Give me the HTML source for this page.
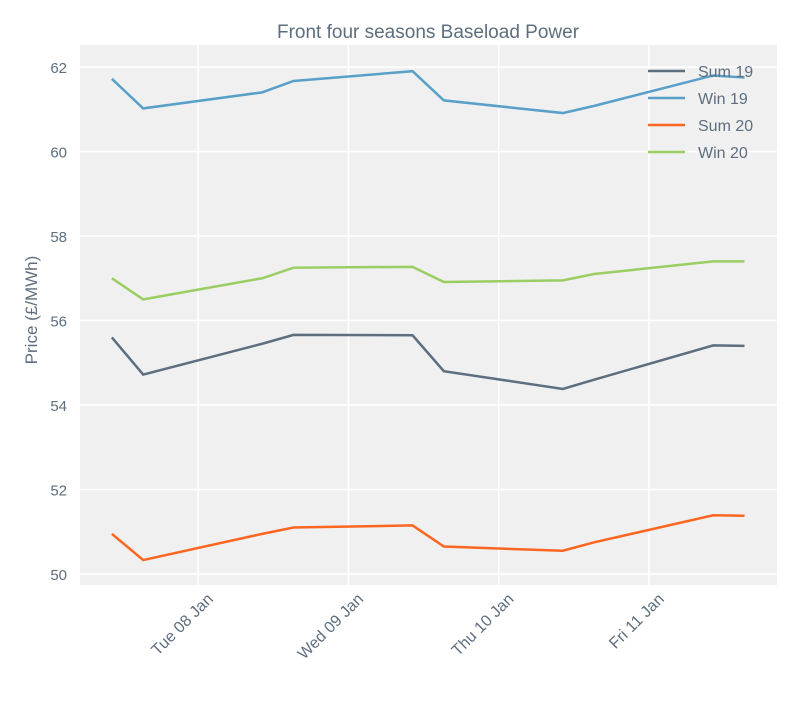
<!DOCTYPE html>
<html><head><meta charset="utf-8"><style>
body{margin:0;background:#fff;}
svg{font-family:"Liberation Sans",Arial,sans-serif;}
</style></head><body>
<svg width="800" height="700" id="c">
<rect x="0" y="0" width="800" height="700" fill="#ffffff"/>
<rect x="80" y="45" width="697" height="540" fill="#f0f0f0"/>
<text x="428" y="38" text-anchor="middle" font-size="19" fill="#5d6e7e">Front four seasons Baseload Power</text>
<text transform="translate(37,310) rotate(-90)" text-anchor="middle" font-size="17" fill="#5d6e7e">Price (£/MWh)</text>
<g id="grid"></g><g id="ticks"></g><g id="lines"></g><g id="legend"></g>
</svg>
<script>
const hours=[10.25,15.25,34.25,39.25,58.25,63.25,82.25,87.25,106.25,111.25];
const seriesNames=["Sum 19","Win 19","Sum 20","Win 20"];
const sum19=[55.6,54.72,55.45,55.66,55.65,54.8,54.38,54.6,55.41,55.4];
const win19=[61.72,61.02,61.4,61.67,61.9,61.21,60.91,61.08,61.8,61.75];
const sum20=[50.95,50.33,50.95,51.1,51.15,50.65,50.55,50.75,51.39,51.38];
const win20=[57.0,56.5,57.0,57.25,57.27,56.91,56.95,57.1,57.4,57.4];
const yTicks=[50,52,54,56,58,60,62];
const xTickHours=[24,48,72,96];
const xTickLabels=["Tue 08 Jan","Wed 09 Jan","Thu 10 Jan","Fri 11 Jan"];
const colors=["#5d6e7e","#58a0c8","#fc6621","#9acd62"];
const NS="http://www.w3.org/2000/svg";
const X=h=>198+(h-24)*(649-198)/72;
const Y=v=>574-(v-50)*(574-67)/12;
function mk(t,a,p){const e=document.createElementNS(NS,t);for(const k in a)e.setAttribute(k,a[k]);p.appendChild(e);return e;}
const grid=document.getElementById('grid'),ticks=document.getElementById('ticks'),lines=document.getElementById('lines'),leg=document.getElementById('legend');
yTicks.forEach(v=>{
 const l=mk('line',{x1:80,x2:777,y1:Y(v),y2:Y(v),stroke:'#fff','stroke-width':1.5},grid);
 
 
 const t=mk('text',{x:67,y:Y(v)+6,'text-anchor':'end','font-size':15,fill:'#5d6e7e'},ticks);
 t.textContent=v;
 
 
});
xTickHours.forEach((h,i)=>{
 const l=mk('line',{x1:X(h),x2:X(h),y1:45,y2:585,stroke:'#fff','stroke-width':1.5},grid);
 
 
 const t=mk('text',{transform:`translate(${X(h)+16},${600}) rotate(-45)`,'text-anchor':'end','font-size':16,fill:'#5d6e7e'},ticks);
 t.textContent=xTickLabels[i];
 
 
});
[sum19,win19,sum20,win20].forEach((s,i)=>{
 const p=mk('polyline',{points:s.map((v,j)=>X(hours[j])+','+Y(v)).join(' '),fill:'none',stroke:colors[i],'stroke-width':2.5},lines);
 
 
 const ly=71+i*27;
 const ll=mk('line',{x1:648,x2:685,y1:ly,y2:ly,stroke:colors[i],'stroke-width':2.5},leg);
 
 
 const lt=mk('text',{x:698,y:ly+6,'font-size':16,fill:'#5d6e7e'},leg);
 lt.textContent=seriesNames[i];
 
 
});
</script>
</body></html>
